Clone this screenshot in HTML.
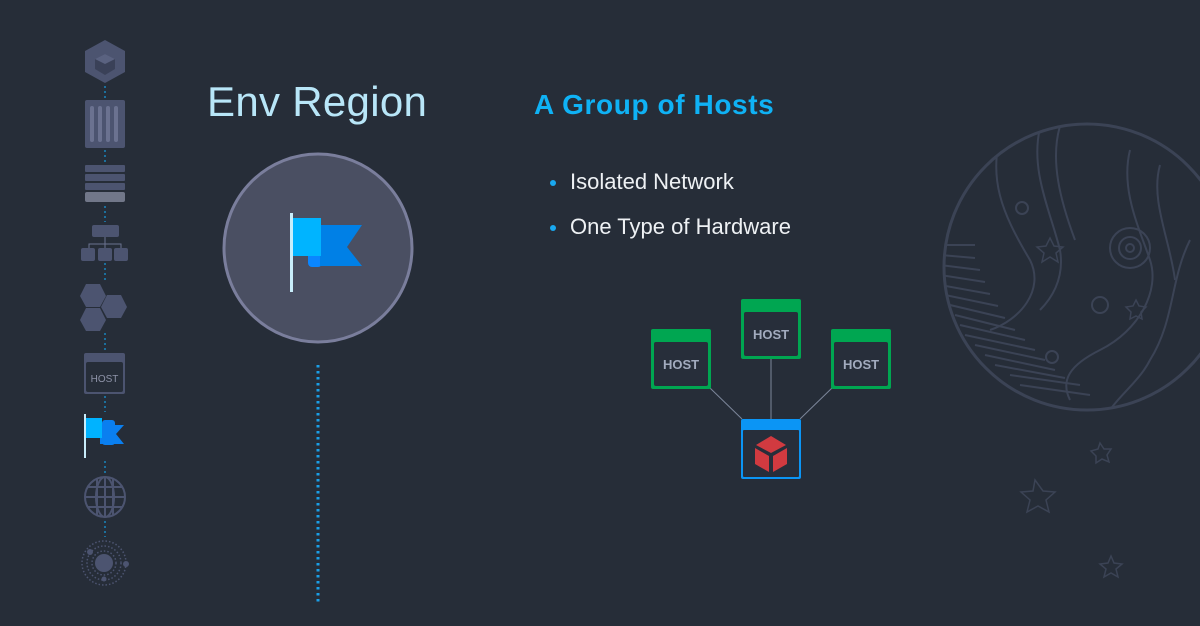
<!DOCTYPE html>
<html><head><meta charset="utf-8"><style>
html,body{margin:0;padding:0;background:#262d38;}
svg{display:block}
text{font-family:"Liberation Sans",sans-serif}
</style></head><body>
<svg width="1200" height="626" viewBox="0 0 1200 626" xmlns="http://www.w3.org/2000/svg">
<defs><clipPath id="pc"><circle cx="1087" cy="267" r="142"/></clipPath></defs>
<rect width="1200" height="626" fill="#262d38"/>
<!-- planet -->
<g fill="none" stroke="#3b4355" stroke-width="2">
<circle cx="1087" cy="267" r="143" stroke-width="3"/>
<g clip-path="url(#pc)">
<path d="M1000,135 C990,180 1000,210 1030,260 C1045,290 1020,320 990,330"/>
<path d="M1040,128 C1030,170 1050,210 1060,250 C1065,280 1050,300 1040,310"/>
<path d="M1060,126 C1050,160 1060,200 1075,240"/>
<path d="M1130,150 C1120,190 1140,230 1150,260 C1160,290 1140,330 1100,350 C1070,365 1060,380 1070,400"/>
<path d="M1160,165 C1150,200 1170,240 1175,280"/>
<path d="M1190,240 C1170,280 1175,320 1150,360 C1140,380 1120,395 1110,410"/>
<circle cx="1130" cy="248" r="20"/><circle cx="1130" cy="248" r="11"/><circle cx="1130" cy="248" r="4"/>
<circle cx="1100" cy="305" r="8"/><circle cx="1022" cy="208" r="6"/><circle cx="1052" cy="357" r="6"/>
<path d="M940,245 L975,245 M940,255 L975,258 M940,265 L980,270 M940,275 L985,282 M940,285 L990,294 M945,295 L998,306 M950,305 L1005,318 M955,315 L1015,330 M960,325 L1025,340 M965,335 L1035,350 M975,345 L1045,360 M985,355 L1055,370 M995,365 L1065,378 M1010,375 L1080,385 M1020,385 L1090,395"/>
<path d="M1050,238 l4,8 9,1 -7,6 2,9 -8,-5 -8,5 2,-9 -7,-6 9,-1z" stroke-width="1.5"/>
<path d="M1136,300 l3,6 7,1 -5,5 1,7 -6,-3 -6,3 1,-7 -5,-5 7,-1z" stroke-width="1.5"/>
</g>
<path d="M1100,443 l4,6 7,0 -4,6 2,7 -7,-3 -6,4 0,-7 -5,-5 7,-2z" stroke-width="1.5"/>
<path d="M1035,480 l8,11 12,1 -9,8 3,12 -11,-6 -11,6 3,-12 -9,-8 12,-1z" stroke-width="1.5"/>
<path d="M1111,556 l3,7 8,1 -6,5 2,8 -7,-4 -7,4 2,-8 -6,-5 8,-1z" stroke-width="1.5"/>
</g>
<!-- sidebar connectors -->
<g stroke="#1c6f9c" stroke-width="2" stroke-dasharray="2,3">
<line x1="105" y1="86" x2="105" y2="102"/><line x1="105" y1="150" x2="105" y2="163"/>
<line x1="105" y1="206" x2="105" y2="222"/><line x1="105" y1="263" x2="105" y2="282"/>
<line x1="105" y1="333" x2="105" y2="350"/><line x1="105" y1="396" x2="105" y2="412"/>
<line x1="105" y1="461" x2="105" y2="474"/><line x1="105" y1="521" x2="105" y2="537"/>
</g>
<!-- sidebar icons -->
<polygon points="105,40 125,51 125,72 105,83 85,72 85,51" fill="#4c5470"/>
<polygon points="105,54 115,59 115,69 105,75 95,69 95,59" fill="#3a4158"/>
<polygon points="105,54 115,59 105,64 95,59" fill="#5a6280"/>
<rect x="85" y="100" width="40" height="48" rx="2" fill="#4c5470"/>
<g fill="#6b7290"><rect x="90" y="106" width="4" height="36" rx="2"/><rect x="98" y="106" width="4" height="36" rx="2"/><rect x="106" y="106" width="4" height="36" rx="2"/><rect x="114" y="106" width="4" height="36" rx="2"/></g>
<g fill="#4c5470"><rect x="85" y="165" width="40" height="7" rx="1"/><rect x="85" y="174" width="40" height="7" rx="1"/><rect x="85" y="183" width="40" height="7" rx="1"/></g>
<rect x="85" y="192" width="40" height="10" rx="2" fill="#717789"/>
<rect x="92" y="225" width="27" height="12" rx="2" fill="#4c5470"/>
<path d="M105,237 V244 M89,249 V244 H121 V249 M105,244 V249" stroke="#6b7290" fill="none"/>
<g fill="#4c5470"><rect x="81" y="248" width="14" height="13" rx="2"/><rect x="98" y="248" width="14" height="13" rx="2"/><rect x="114" y="248" width="14" height="13" rx="2"/></g>
<g fill="#4c5470"><polygon points="86,284 100,284 106,296 100,307 86,307 80,296"/><polygon points="107,295 121,295 127,307 121,318 107,318 101,307"/><polygon points="86,308 100,308 106,320 100,331 86,331 80,320"/></g>
<rect x="84" y="353" width="41" height="41" rx="2" fill="#4c5470"/>
<rect x="86" y="362" width="37" height="30" rx="2" fill="#262d38"/>
<text x="104.5" y="382" font-size="10" fill="#8e93a8" text-anchor="middle">HOST</text>
<rect x="102" y="420" width="13" height="25" rx="3" fill="#0a7ff0"/>
<polygon points="100,425 124,425 116,434 124,444 100,444" fill="#0a7ff0"/>
<rect x="86" y="418" width="16" height="20" fill="#00b3ff"/>
<rect x="84" y="414" width="2" height="44" fill="#c8ecfa"/>
<g fill="none" stroke="#4c5470" stroke-width="2"><circle cx="105" cy="497" r="20"/><ellipse cx="105" cy="497" rx="9" ry="20"/><line x1="105" y1="477" x2="105" y2="517"/><line x1="85" y1="497" x2="125" y2="497"/><line x1="88" y1="487" x2="122" y2="487"/><line x1="88" y1="507" x2="122" y2="507"/><line x1="97" y1="479" x2="97" y2="515"/><line x1="113" y1="479" x2="113" y2="515"/></g>
<g fill="none" stroke="#4c5470" stroke-width="1.5" stroke-dasharray="1.5,2"><circle cx="104" cy="563" r="22"/><circle cx="104" cy="563" r="17"/><circle cx="104" cy="563" r="12"/></g>
<circle cx="104" cy="563" r="9" fill="#4c5470"/><circle cx="90" cy="552" r="3" fill="#4c5470"/><circle cx="126" cy="564" r="3" fill="#4c5470"/><circle cx="104" cy="579" r="2.5" fill="#4c5470"/>
<!-- main circle -->
<circle cx="318" cy="248" r="94" fill="#4a4f62" stroke="#7a7e9c" stroke-width="3"/>
<rect x="308" y="226" width="14" height="41" rx="4" fill="#0a86ff"/>
<polygon points="320,225 362,225 347,247 362,266 320,266" fill="#0080e6"/>
<rect x="293" y="218" width="28" height="38" fill="#00b4ff"/>
<rect x="290" y="213" width="3" height="79" fill="#c9eefb"/>
<line x1="318" y1="365" x2="318" y2="603" stroke="#1a9fe8" stroke-width="3" stroke-dasharray="2.5,3.5"/>
<!-- text -->
<text x="207" y="116" font-size="42" fill="#b8e6f8" letter-spacing="0.3">Env Region</text>
<text x="534" y="114" font-size="28" font-weight="bold" fill="#0fb2f5" letter-spacing="0.6">A Group of Hosts</text>
<circle cx="553" cy="183" r="3" fill="#19a8ef"/><circle cx="553" cy="228" r="3" fill="#19a8ef"/>
<text x="570" y="189" font-size="22" fill="#eef1f4">Isolated Network</text>
<text x="570" y="234" font-size="22" fill="#eef1f4">One Type of Hardware</text>
<!-- hosts -->
<g stroke="#7c869a" stroke-width="1"><line x1="710" y1="388" x2="742" y2="419"/><line x1="771" y1="359" x2="771" y2="419"/><line x1="832" y1="388" x2="800" y2="419"/></g>
<g>
<rect x="651" y="329" width="60" height="60" rx="2" fill="#00a651"/><rect x="654" y="342" width="54" height="44" rx="2" fill="#272e3a"/>
<text x="681" y="369" font-size="13" font-weight="bold" fill="#a2abbe" text-anchor="middle">HOST</text>
<rect x="741" y="299" width="60" height="60" rx="2" fill="#00a651"/><rect x="744" y="312" width="54" height="44" rx="2" fill="#272e3a"/>
<text x="771" y="339" font-size="13" font-weight="bold" fill="#a2abbe" text-anchor="middle">HOST</text>
<rect x="831" y="329" width="60" height="60" rx="2" fill="#00a651"/><rect x="834" y="342" width="54" height="44" rx="2" fill="#272e3a"/>
<text x="861" y="369" font-size="13" font-weight="bold" fill="#a2abbe" text-anchor="middle">HOST</text>
<rect x="741" y="419" width="60" height="60" rx="2" fill="#0b95f5"/><rect x="743" y="430" width="56" height="47" rx="1" fill="#272e3a"/>
<polygon points="771,436 786,445 771,453 756,445" fill="#d13a40"/>
<polygon points="755,448 769,456 769,472 755,464" fill="#d13a40"/>
<polygon points="787,448 773,456 773,472 787,464" fill="#d13a40"/>
</g>
</svg>
</body></html>
